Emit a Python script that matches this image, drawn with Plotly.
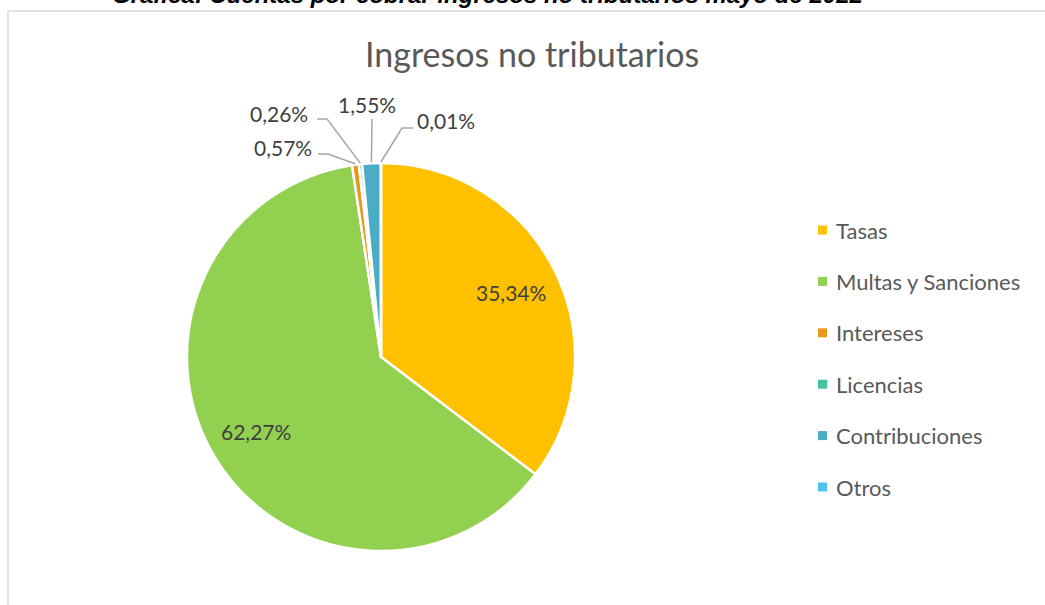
import math
import plotly.graph_objects as go

# ---- data ----
categories = ["Tasas", "Multas y Sanciones", "Intereses", "Licencias", "Contribuciones", "Otros"]
values = [35.34, 62.27, 0.57, 0.26, 1.55, 0.01]
value_labels = ["35,34%", "62,27%", "0,57%", "0,26%", "1,55%", "0,01%"]
colors = ["#FFC000", "#92D050", "#E8961E", "#45C4A0", "#4BACC6", "#4DC3F5"]

W, H = 1045, 605
CX, CY, R = 381, 357, 194


def px(x):
    return x / W


def py(y):
    return 1 - y / H


fig = go.Figure()
fig.add_trace(go.Pie(
    labels=categories,
    values=values,
    sort=False,
    direction="clockwise",
    rotation=0,
    textinfo="none",
    hoverinfo="label+percent",
    marker=dict(colors=colors, line=dict(color="white", width=2.5)),
    domain=dict(x=[px(CX - R), px(CX + R)], y=[py(CY + R), py(CY - R)]),
    showlegend=False,
))

total = sum(values)
annotations = []
shapes = []

LABEL_FONT = dict(family="Lato", size=21, color="#404040")

# label placement style: inside for large slices, callouts for small ones
inside_radius = 0.75
callouts = {
    # index: (elbow point, text center)
    2: ((328, 154), (283, 148)),
    3: ((327, 119), (279, 113)),
    4: ((372, 119), (367, 105)),
    5: ((402, 128), (446, 120)),
}
elbow_start = {2: (318, 154), 3: (317, 119), 4: None, 5: (413, 128)}

cum = 0.0
for i, (v, lab) in enumerate(zip(values, value_labels)):
    mid = (cum + v / 2) / total * 2 * math.pi
    cum += v
    if i not in callouts:
        x = CX + inside_radius * R * math.sin(mid)
        y = CY - inside_radius * R * math.cos(mid)
        annotations.append(dict(x=px(x), y=py(y), xref="paper", yref="paper", text=lab,
                                xanchor="center", yanchor="middle",
                                showarrow=False, font=LABEL_FONT))
    else:
        ex = CX + (R + 1) * math.sin(mid)
        ey = CY - (R + 1) * math.cos(mid)
        (bx, by), (tx, ty) = callouts[i]
        path = f"M {px(ex)} {py(ey)} L {px(bx)} {py(by)}"
        if elbow_start[i] is not None:
            sx, sy = elbow_start[i]
            path += f" L {px(sx)} {py(sy)}"
        shapes.append(dict(type="path", xref="paper", yref="paper", path=path,
                           line=dict(color="#A6A6A6", width=1.5)))
        annotations.append(dict(x=px(tx), y=py(ty), xref="paper", yref="paper", text=lab,
                                xanchor="center", yanchor="middle",
                                showarrow=False, font=LABEL_FONT))

# manual legend
leg_y0, leg_dy = 230, 51.4
for i, (cat, col) in enumerate(zip(categories, colors)):
    yy = leg_y0 + i * leg_dy
    shapes.append(dict(type="rect", xref="paper", yref="paper",
                       x0=px(818), x1=px(827), y0=py(yy + 4.5), y1=py(yy - 4.5),
                       fillcolor=col, line=dict(width=0)))
    annotations.append(dict(x=px(834), y=py(yy), xref="paper", yref="paper", text=cat,
                            xanchor="left", yanchor="middle", showarrow=False,
                            font=dict(family="Lato", size=22, color="#595959")))

# chart title
annotations.append(dict(x=px(532), y=py(54), xref="paper", yref="paper",
                        text="Ingresos no tributarios", showarrow=False,
                        xanchor="center", yanchor="middle",
                        font=dict(family="Lato", size=34, color="#595959")))

# document caption (cut at top)
annotations.append(dict(x=px(488), y=py(10), xref="paper", yref="paper",
                        xanchor="center", yanchor="bottom",
                        text="<b><i>Gráfica: Cuentas por cobrar ingresos no tributarios mayo de 2022</i></b>",
                        showarrow=False,
                        font=dict(family="Liberation Sans", size=24, color="#000000")))

# chart border (left and top visible)
shapes.append(dict(type="path", xref="paper", yref="paper",
                   path=f"M {px(8)} {py(H + 5)} L {px(8)} {py(11)} L {px(W + 5)} {py(11)}",
                   line=dict(color="#D9D9D9", width=1.5)))

fig.update_layout(
    width=W, height=H,
    margin=dict(l=0, r=0, t=0, b=0),
    paper_bgcolor="white",
    plot_bgcolor="white",
    annotations=annotations,
    shapes=shapes,
)

fig.write_html("out.html", config=dict(displayModeBar=False),
               post_script="document.body.style.margin='0';document.body.style.overflow='hidden';")
